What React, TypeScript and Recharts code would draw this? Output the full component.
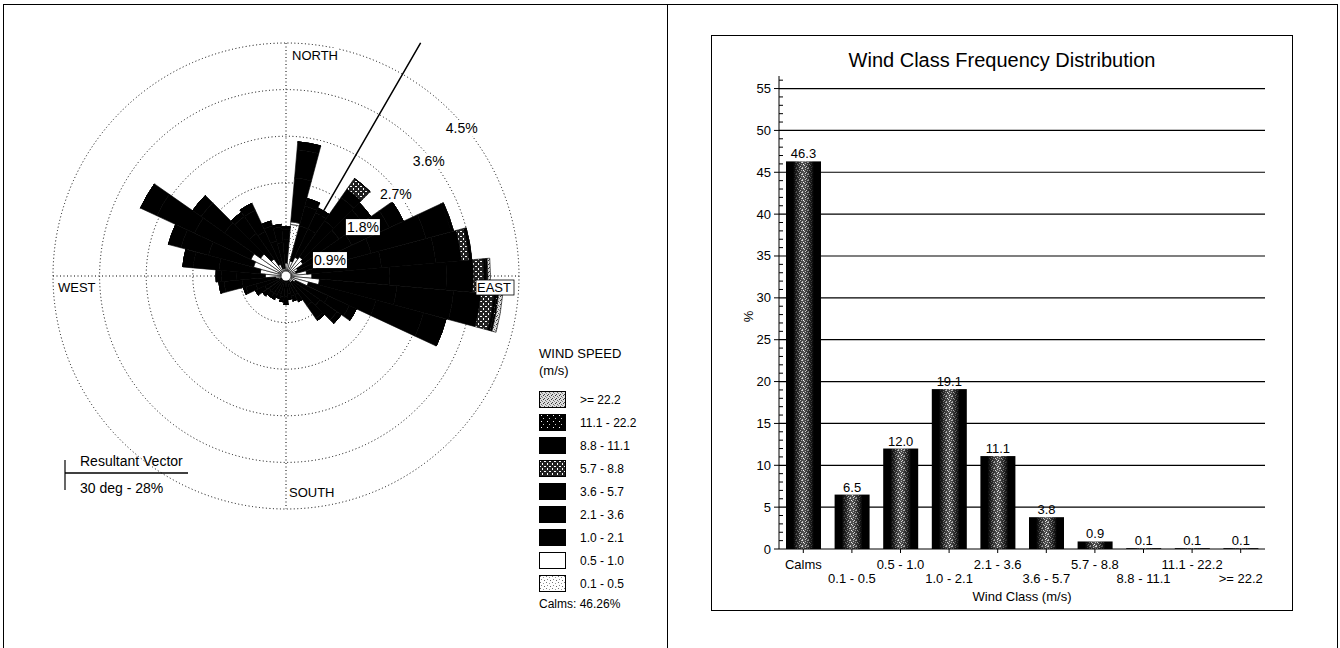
import React from "react";
import {
  RadialBarChart,
  RadialBar,
  PolarGrid,
  PolarAngleAxis,
  PolarRadiusAxis,
  Radar,
  Legend,
  BarChart,
  Bar,
  XAxis,
  YAxis,
  CartesianGrid,
  LabelList,
} from "recharts";

const FONT = "Arial, 'Liberation Sans', Helvetica, sans-serif";

// ---------- wind rose: % of hours per 10-degree sector, split by speed class ----------
const DIRS = [360, 10, 20, 30, 40, 50, 60, 70, 80, 90, 100, 110, 120, 130, 140, 150, 160, 170,
  180, 190, 200, 210, 220, 230, 240, 250, 260, 270, 280, 290, 300, 310, 320, 330, 340, 350];

const F_01_05 = [0.1, 1.0, 0.1, 0.1, 0.1, 0.1, 0.05, 0.05, 0.1, 0.1, 0.15, 0.1, 0.05, 0.05, 0.05, 0.05, 0.05, 0.05,
  0.05, 0.05, 0.05, 0.05, 0.05, 0.05, 0.05, 0.05, 0.05, 0.1, 0.1, 0.15, 0.15, 0.1, 0.1, 0.05, 0.05, 0.05];
const F_05_10 = [0.15, 0.05, 0.2, 0.3, 0.35, 0.3, 0.2, 0.15, 0.3, 0.4, 0.5, 0.35, 0.15, 0.1, 0.1, 0.05, 0.05, 0.05,
  0.05, 0.05, 0.05, 0.05, 0.05, 0.05, 0.05, 0.1, 0.15, 0.3, 0.4, 0.5, 0.6, 0.5, 0.3, 0.2, 0.1, 0.1];
const F_10_21 = [0.45, 0.85, 0.7, 0.6, 0.85, 0.85, 1.15, 1.5, 1.45, 1.5, 1.5, 1.35, 0.7, 0.65, 0.55, 0.3, 0.3, 0.25,
  0.3, 0.3, 0.25, 0.3, 0.3, 0.3, 0.35, 0.45, 0.65, 0.55, 0.8, 0.9, 1.2, 0.85, 0.6, 0.7, 0.55, 0.5];
const F_21_36 = [0.2, 0.55, 0.4, 0.35, 0.55, 0.55, 0.8, 1.1, 1.05, 1.1, 1.1, 0.95, 0.45, 0.4, 0.3, 0.15, 0.1, 0.1,
  0.15, 0.1, 0.1, 0.1, 0.1, 0.15, 0.2, 0.2, 0.35, 0.3, 0.5, 0.55, 0.8, 0.55, 0.4, 0.45, 0.3, 0.3];
const F_36_57 = [0.05, 0.15, 0.15, 0.1, 0.2, 0.2, 0.3, 0.5, 0.5, 0.52, 0.53, 0.45, 0.15, 0.1, 0.05, 0, 0, 0,
  0, 0, 0, 0, 0, 0, 0, 0.05, 0.1, 0.1, 0.2, 0.25, 0.35, 0.2, 0.1, 0.15, 0.1, 0.05];
const F_57_88 = [0, 0, 0, 0, 0.25, 0, 0, 0, 0.15, 0.2, 0.25, 0, 0, 0, 0, 0, 0, 0,
  0, 0, 0, 0, 0, 0, 0, 0, 0, 0, 0, 0, 0, 0, 0, 0, 0, 0];
const F_88_111 = [0, 0, 0, 0, 0, 0, 0, 0.05, 0.05, 0.05, 0.05, 0, 0, 0, 0, 0, 0, 0,
  0, 0, 0, 0, 0, 0, 0, 0, 0, 0, 0, 0, 0, 0, 0, 0, 0, 0];
const F_111_222 = [0, 0, 0, 0, 0, 0, 0, 0, 0, 0.03, 0.04, 0, 0, 0, 0, 0, 0, 0,
  0, 0, 0, 0, 0, 0, 0, 0, 0, 0, 0, 0, 0, 0, 0, 0, 0, 0];
const F_222 = [0, 0, 0, 0, 0, 0, 0, 0, 0, 0.05, 0.08, 0, 0, 0, 0, 0, 0, 0,
  0, 0, 0, 0, 0, 0, 0, 0, 0, 0, 0, 0, 0, 0, 0, 0, 0, 0];

const CALMS_PCT = 46.26;
const RING_TICKS = [0.9, 1.8, 2.7, 3.6, 4.5];
const RESULTANT_DIR = 30;
const RESULTANT_LEN = 5.2; // drawn length of the vector, in ring units

// speed classes, innermost first (stack order)
const ROSE_CLASSES = [
  { key: "c01", label: "0.1 - 0.5", values: F_01_05, fill: "url(#rsSpkLight)" },
  { key: "c05", label: "0.5 - 1.0", values: F_05_10, fill: "#ffffff" },
  { key: "c10", label: "1.0 - 2.1", values: F_10_21, fill: "#000000" },
  { key: "c21", label: "2.1 - 3.6", values: F_21_36, fill: "#000000" },
  { key: "c36", label: "3.6 - 5.7", values: F_36_57, fill: "#000000" },
  { key: "c57", label: "5.7 - 8.8", values: F_57_88, fill: "url(#rsHatch)" },
  { key: "c88", label: "8.8 - 11.1", values: F_88_111, fill: "#000000" },
  { key: "c111", label: "11.1 - 22.2", values: F_111_222, fill: "url(#rsSpkDark)" },
  { key: "c222", label: ">= 22.2", values: F_222, fill: "url(#rsSpkGrey)" },
];

const roseRows = DIRS.map((d, i) => {
  const row: Record<string, any> = { dir: String(d), deg: d, vec: d === RESULTANT_DIR ? RESULTANT_LEN : 0 };
  ROSE_CLASSES.forEach((c) => (row[c.key] = c.values[i]));
  return row;
});

// ---------- frequency distribution ----------
const WIND_CLASSES = ["Calms", "0.1 - 0.5", "0.5 - 1.0", "1.0 - 2.1", "2.1 - 3.6",
  "3.6 - 5.7", "5.7 - 8.8", "8.8 - 11.1", "11.1 - 22.2", ">= 22.2"];
const CLASS_PCT = [46.3, 6.5, 12.0, 19.1, 11.1, 3.8, 0.9, 0.1, 0.1, 0.1];
const PCT_TICKS = Array.from({ length: 57 }, (_, i) => i);
const PCT_GRID = [5, 10, 15, 20, 25, 30, 35, 40, 45, 50, 55];

const barRows = WIND_CLASSES.map((cls, i) => ({ cls, pct: CLASS_PCT[i] }));

// rose geometry (page px); the 4.5 % ring sits at R_RING
const CX = 286;
const CY = 276;
const R_RING = 233;
const R_AXIS = (R_RING * RESULTANT_LEN) / RING_TICKS[RING_TICKS.length - 1];

function RingTick(props: any) {
  const { x, y, payload } = props;
  const label = `${payload.value}%`;
  const w = label.length * 8 + 2;
  return (
    <g transform={`translate(${x + 11},${y + 17})`}>
      <rect x={-w / 2} y={-8} width={w} height={16} fill="#fff" />
      <text textAnchor="middle" dy={5} fontSize={14} fontFamily={FONT} fill="#000">
        {label}
      </text>
    </g>
  );
}

function RoseLegend() {
  const rows = [...ROSE_CLASSES].reverse();
  return (
    <div style={{ position: "relative", width: 120, height: 272, fontFamily: FONT, color: "#000" }}>
      <div style={{ position: "absolute", left: 0, top: 0, fontSize: 13, lineHeight: "17px", whiteSpace: "nowrap" }}>
        WIND SPEED
        <br />
        (m/s)
      </div>
      {rows.map((c, k) => (
        <div
          key={c.key}
          style={{ position: "absolute", left: 0, top: 46 + 23 * k, height: 17, display: "flex", alignItems: "center", whiteSpace: "nowrap" }}
        >
          <svg width={27} height={17} style={{ display: "block" }}>
            <rect x={0.5} y={0.5} width={26} height={16} fill={c.fill} stroke="#000" />
          </svg>
          <span style={{ marginLeft: 14, fontSize: 12 }}>{c.label}</span>
        </div>
      ))}
      <div style={{ position: "absolute", left: 0, top: 252, fontSize: 12, whiteSpace: "nowrap" }}>
        Calms: {CALMS_PCT}%
      </div>
    </div>
  );
}

function Compass({ text, x, y, boxed }: { text: string; x: number; y: number; boxed?: boolean }) {
  const w = text.length * 9 + 2;
  return (
    <g>
      <rect x={x - 1} y={y - 12} width={w} height={15} fill="#fff" stroke={boxed ? "#000" : "none"} strokeWidth={0.8} />
      <text x={x} y={y} fontSize={13} fontFamily={FONT} fill="#000">
        {text}
      </text>
    </g>
  );
}

function WindRose() {
  return (
    <div style={{ position: "absolute", left: 0, top: 0, width: 668, height: 648 }}>
      {/* N-S / E-W cross, under the petals */}
      <svg width={668} height={648} style={{ position: "absolute", left: 0, top: 0 }}>
        <line x1={CX} y1={CY - R_RING} x2={CX} y2={CY + R_RING} stroke="#000" strokeDasharray="1 2.5" />
        <line x1={CX - R_RING} y1={CY} x2={CX + R_RING} y2={CY} stroke="#000" strokeDasharray="1 2.5" />
      </svg>
      <RadialBarChart
        width={668}
        height={648}
        data={roseRows}
        layout="centric"
        cx={CX}
        cy={CY}
        innerRadius={0}
        outerRadius={R_AXIS}
        startAngle={85}
        endAngle={-275}
        barCategoryGap={0}
        barGap={0}
        margin={{ top: 0, right: 0, bottom: 0, left: 0 }}
        style={{ position: "absolute", left: 0, top: 0 }}
      >
        <defs>
          <pattern id="rsSpkLight" width="6" height="6" patternUnits="userSpaceOnUse">
            <rect width="6" height="6" fill="#fff" />
            <rect x="1" y="1" width="1" height="1" fill="#777" />
            <rect x="4" y="2" width="1" height="1" fill="#999" />
            <rect x="2" y="4" width="1" height="1" fill="#888" />
            <rect x="5" y="5" width="1" height="1" fill="#666" />
          </pattern>
          <pattern id="rsHatch" width="5" height="5" patternUnits="userSpaceOnUse">
            <rect width="5" height="5" fill="#222" />
            <rect x="0" y="1" width="2" height="1" fill="#fff" />
            <rect x="3" y="3" width="1" height="2" fill="#fff" />
          </pattern>
          <pattern id="rsSpkDark" width="6" height="6" patternUnits="userSpaceOnUse">
            <rect width="6" height="6" fill="#000" />
            <rect x="2" y="1" width="1" height="1" fill="#fff" />
            <rect x="4" y="4" width="1" height="1" fill="#ccc" />
          </pattern>
          <pattern id="rsSpkGrey" width="4" height="4" patternUnits="userSpaceOnUse">
            <rect width="4" height="4" fill="#ddd" />
            <rect x="0" y="0" width="1" height="1" fill="#333" />
            <rect x="2" y="1" width="1" height="1" fill="#666" />
            <rect x="1" y="3" width="1" height="1" fill="#444" />
            <rect x="3" y="2" width="1" height="1" fill="#888" />
          </pattern>
        </defs>
        <PolarGrid gridType="circle" radialLines={false} stroke="#000" strokeDasharray="1 2.5" />
        <PolarAngleAxis type="category" dataKey="dir" tick={false} tickLine={false} axisLine={false} />
        {/* bearing axis for the resultant vector: 0..360 clockwise from north */}
        <PolarAngleAxis angleAxisId="bearing" type="number" dataKey="deg" domain={[5, 365]} tick={false} tickLine={false} axisLine={false} />
        {ROSE_CLASSES.map((c) => (
          <RadialBar
            key={c.key}
            dataKey={c.key}
            stackId="rose"
            fill={c.fill}
            stroke="#000"
            strokeWidth={0.6}
            legendType="none"
            isAnimationActive={false}
          />
        ))}
        <Radar
          angleAxisId="bearing"
          dataKey="vec"
          stroke="#000"
          strokeWidth={1.5}
          fill="none"
          fillOpacity={0}
          dot={false}
          legendType="none"
          isAnimationActive={false}
        />
        <PolarRadiusAxis
          type="number"
          domain={[0, RESULTANT_LEN]}
          ticks={RING_TICKS}
          angle={45}
          axisLine={false}
          tickLine={false}
          tick={<RingTick />}
        />
        <Legend
          content={<RoseLegend />}
          layout="vertical"
          align="right"
          verticalAlign="top"
          wrapperStyle={{ left: 539, top: 345, width: 120 }}
        />
      </RadialBarChart>
      <svg width={668} height={648} style={{ position: "absolute", left: 0, top: 0, pointerEvents: "none" }}>
        <circle cx={CX} cy={CY} r={4.5} fill="#fff" />
        <Compass text="NORTH" x={CX + 6} y={CY - R_RING + 17} />
        <Compass text="EAST" x={CX + R_RING - 42} y={CY + 16} boxed />
        <Compass text="SOUTH" x={CX + 3} y={CY + R_RING - 12} />
        <Compass text="WEST" x={CX - R_RING + 5} y={CY + 16} />
        <line x1={65} y1={460} x2={65} y2={490} stroke="#000" strokeWidth={1.2} />
        <line x1={65} y1={473} x2={188} y2={473} stroke="#000" strokeWidth={1.5} />
        <text x={80} y={466} fontSize={14} fontFamily={FONT} fill="#000">Resultant Vector</text>
        <text x={80} y={493} fontSize={14} fontFamily={FONT} fill="#000">30 deg - 28%</text>
      </svg>
    </div>
  );
}

function ClassTick(props: any) {
  const { x, y, payload, index } = props;
  return (
    <text x={x} y={y} dy={index % 2 === 0 ? 14 : 27.5} textAnchor="middle" fontSize={13} fontFamily={FONT} fill="#000">
      {payload.value}
    </text>
  );
}

function PctTick(props: any) {
  const { x, y, payload } = props;
  const ax = x + 8;
  if (payload.value % 5 === 0) {
    return (
      <g>
        <line x1={ax - 5} y1={y} x2={ax} y2={y} stroke="#000" />
        <text x={x} y={y} dy={4.5} textAnchor="end" fontSize={13} fontFamily={FONT} fill="#000">
          {payload.value}
        </text>
      </g>
    );
  }
  return <line x1={ax} y1={y} x2={ax + 4} y2={y} stroke="#000" />;
}

// black bar with a grainy light stripe down the middle
function GrainBar(props: any) {
  const { x, y, width, height } = props;
  if (!height || height <= 0) return null;
  return (
    <g>
      <rect x={x} y={y} width={width} height={height} fill="url(#barGrain)" />
      <rect x={x} y={y} width={width} height={height} fill="url(#grainDots)" mask="url(#grainMask)" />
    </g>
  );
}

function FrequencyChart() {
  return (
    <div style={{ position: "absolute", left: 670, top: 0, width: 670, height: 648 }}>
      <div
        style={{
          position: "absolute",
          left: 41,
          top: 35,
          width: 582,
          height: 576,
          border: "1px solid #000",
          boxSizing: "border-box",
        }}
      />
      <div
        style={{
          position: "absolute",
          left: 41,
          top: 48,
          width: 582,
          textAlign: "center",
          fontFamily: FONT,
          fontSize: 20,
          lineHeight: "24px",
          color: "#000",
        }}
      >
        Wind Class Frequency Distribution
      </div>
      <BarChart
        width={670}
        height={648}
        data={barRows}
        margin={{ top: 76, right: 75, bottom: 47, left: 72 }}
        barSize={35}
        style={{ position: "absolute", left: 0, top: 0 }}
      >
        <defs>
          <linearGradient id="barGrain" x1="0" y1="0" x2="1" y2="0">
            <stop offset="0" stopColor="#000" />
            <stop offset="0.2" stopColor="#000" />
            <stop offset="0.5" stopColor="#555" />
            <stop offset="0.8" stopColor="#000" />
            <stop offset="1" stopColor="#000" />
          </linearGradient>
          <linearGradient id="grainFade" x1="0" y1="0" x2="1" y2="0">
            <stop offset="0" stopColor="#000" />
            <stop offset="0.22" stopColor="#000" />
            <stop offset="0.5" stopColor="#fff" />
            <stop offset="0.78" stopColor="#000" />
            <stop offset="1" stopColor="#000" />
          </linearGradient>
          <mask id="grainMask" maskContentUnits="objectBoundingBox">
            <rect x="0" y="0" width="1" height="1" fill="url(#grainFade)" />
          </mask>
          <pattern id="grainDots" width="6" height="6" patternUnits="userSpaceOnUse">
            <rect x="0" y="0" width="1" height="1" fill="#eee" />
            <rect x="3" y="1" width="1" height="1" fill="#ccc" />
            <rect x="1" y="2" width="1" height="1" fill="#fff" />
            <rect x="5" y="2" width="1" height="1" fill="#bbb" />
            <rect x="2" y="3" width="1" height="1" fill="#ddd" />
            <rect x="4" y="4" width="1" height="1" fill="#fff" />
            <rect x="0" y="5" width="1" height="1" fill="#ccc" />
            <rect x="3" y="5" width="1" height="1" fill="#eee" />
            <rect x="5" y="0" width="1" height="1" fill="#ddd" />
          </pattern>
        </defs>
        <CartesianGrid vertical={false} horizontalValues={PCT_GRID} stroke="#000" strokeWidth={1.2} />
        <XAxis
          dataKey="cls"
          interval={0}
          height={52}
          tickSize={4}
          tickMargin={2}
          tick={<ClassTick />}
          tickLine={{ stroke: "#000" }}
          axisLine={{ stroke: "#000" }}
          label={{ value: "Wind Class (m/s)", position: "insideBottom", offset: 0, fontSize: 13, fontFamily: FONT, fill: "#000" }}
        />
        <YAxis
          domain={[0, 56.5]}
          allowDataOverflow
          ticks={PCT_TICKS}
          interval={0}
          width={37}
          tickSize={6}
          tickMargin={2}
          tickLine={false}
          axisLine={{ stroke: "#000" }}
          tick={<PctTick />}
          label={(p: any) => {
            const vb = p.viewBox;
            const lx = vb.x + 7;
            const ly = vb.y + vb.height / 2 + 4;
            return (
              <text x={lx} y={ly} transform={`rotate(-90 ${lx} ${ly})`} textAnchor="middle" dy={4} fontSize={13} fontFamily={FONT} fill="#000">
                %
              </text>
            );
          }}
        />
        <XAxis xAxisId="frame" orientation="top" dataKey="cls" height={0} tick={false} tickLine={false} axisLine={{ stroke: "#000" }} />
        <YAxis yAxisId="frame" orientation="right" width={0} tick={false} tickLine={false} axisLine={{ stroke: "#000" }} />
        <Bar dataKey="pct" fill="#000" shape={<GrainBar />} isAnimationActive={false}>
          <LabelList
            dataKey="pct"
            position="top"
            offset={3}
            formatter={(v: any) => Number(v).toFixed(1)}
            style={{ fontSize: 13, fontFamily: FONT, fill: "#000" }}
          />
        </Bar>
      </BarChart>
    </div>
  );
}

export default function App() {
  return (
    <div style={{ position: "absolute", left: 0, top: 0, width: 1340, height: 648, background: "#fff", overflow: "hidden" }}>
      {/* page frame with the divider between the two panels */}
      <div style={{ position: "absolute", left: 3, top: 4, width: 1335, height: 1, background: "#000" }} />
      <div style={{ position: "absolute", left: 3, top: 4, width: 1, height: 644, background: "#000" }} />
      <div style={{ position: "absolute", left: 667, top: 4, width: 1, height: 644, background: "#000" }} />
      <div style={{ position: "absolute", left: 1337, top: 4, width: 1, height: 644, background: "#000" }} />
      <WindRose />
      <FrequencyChart />
    </div>
  );
}
